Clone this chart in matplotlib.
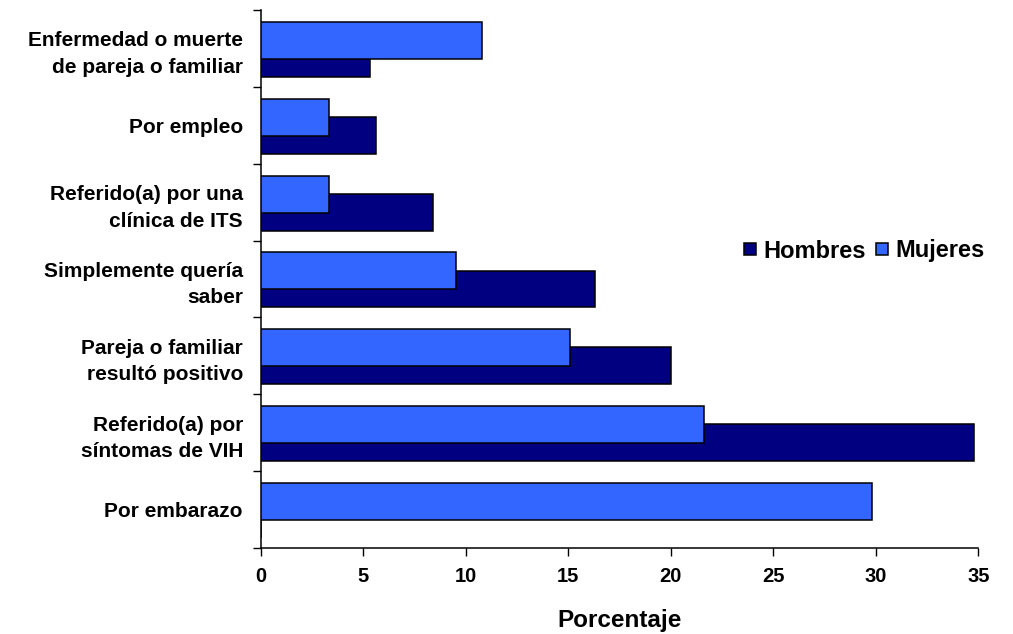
import matplotlib
matplotlib.use("Agg")
import matplotlib.pyplot as plt
import numpy as np
from matplotlib.patches import Patch

plt.rcParams['font.family'] = ['Liberation Sans', 'DejaVu Sans']
plt.rcParams['font.weight'] = 'bold'

categories = [
    "Enfermedad o muerte\nde pareja o familiar",
    "Por empleo",
    "Referido(a) por una\nclínica de ITS",
    "Simplemente quería\nsaber",
    "Pareja o familiar\nresultó positivo",
    "Referido(a) por\nsíntomas de VIH",
    "Por embarazo",
]
mujeres = [10.8, 3.3, 3.3, 9.5, 15.1, 21.6, 29.8]
hombres = [5.3, 5.6, 8.4, 16.3, 20.0, 34.8, 0.0]
x_ticks = [0, 5, 10, 15, 20, 25, 30, 35]

color_h = "#000080"
color_m = "#3366FF"

fig = plt.figure(figsize=(10.13, 6.34), dpi=100)
ax = fig.add_axes([261 / 1013, 1 - 548 / 634, (978.3 - 261) / 1013, (548 - 10) / 634])

y = np.arange(len(categories))
bar_h = 0.48
ax.barh(y + 0.13, hombres, height=bar_h, color=color_h, edgecolor="black",
        linewidth=1.1, zorder=2)
ax.barh(y - 0.105, mujeres, height=bar_h, color=color_m, edgecolor="black",
        linewidth=1.1, zorder=3)

ax.set_xlim(0, 35)
ax.set_ylim(len(categories) - 0.5, -0.5)
ax.set_xticks(x_ticks)
ax.set_xticklabels([str(t) for t in x_ticks], fontsize=14.5, fontweight="bold")
ax.tick_params(axis="x", length=6, width=1, pad=8, direction="out")

ax.set_yticks(y)
ax.set_yticklabels(categories, fontsize=15, fontweight="bold", linespacing=1.5)
ax.tick_params(axis="y", which="major", length=0, pad=13)
ax.set_yticks(np.arange(-0.5, len(categories), 1.0), minor=True)
ax.tick_params(axis="y", which="minor", length=6, width=1, direction="out")

for side in ("top", "right"):
    ax.spines[side].set_visible(False)
for side in ("left", "bottom"):
    ax.spines[side].set_linewidth(1.1)

ax.set_xlabel("Porcentaje", fontsize=17.5, fontweight="bold", labelpad=16)

handles = [Patch(facecolor=color_h, edgecolor="black", linewidth=1.1),
           Patch(facecolor=color_m, edgecolor="black", linewidth=1.1)]
fig.legend(handles, ["Hombres", "Mujeres"], loc="center left",
           bbox_to_anchor=(744 / 1013, 1 - 251 / 634), ncol=2, frameon=False,
           prop={"weight": "bold", "size": 17}, handlelength=0.5,
           handleheight=0.45, handletextpad=0.3, columnspacing=0.45,
           borderpad=0, borderaxespad=0)

fig.savefig("out.png", dpi=100)
